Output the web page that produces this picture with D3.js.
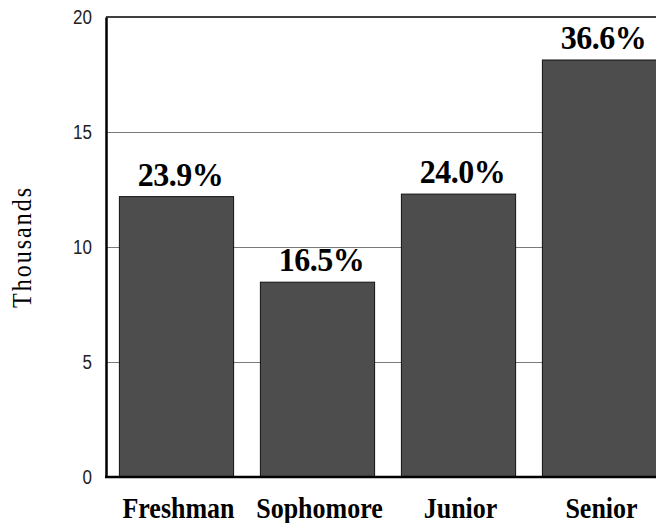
<!DOCTYPE html>
<html>
<head>
<meta charset="utf-8">
<script src="https://cdn.jsdelivr.net/npm/d3@7"></script>
<style>
  html, body { margin: 0; padding: 0; background: #fff; }
  svg { display: block; }
</style>
</head>
<body>
<div id="chart"></div>
<script>
// data
const categories = ["Freshman", "Sophomore", "Junior", "Senior"];
const thousands = [12.19, 8.47, 12.30, 18.13];
const shareLabels = ["23.9%", "16.5%", "24.0%", "36.6%"];
const yTicks = [0, 5, 10, 15, 20];

const width = 656;
const height = 523;
const plotLeft = 106;   // y axis position
const plotTop = 17;
const plotBottom = 477;
const serif = "'Liberation Serif', 'Times New Roman', serif";

const svg = d3.select("#chart").append("svg")
    .attr("width", width)
    .attr("height", height);

const x = d3.scaleBand()
    .domain(categories)
    .range([plotLeft, plotLeft + 564])
    .paddingInner(0.19)
    .paddingOuter(0.095);

const y = d3.scaleLinear()
    .domain([0, 20])
    .range([plotBottom, plotTop]);

// grey gridlines (5, 10, 15)
svg.append("g")
    .attr("transform", `translate(${plotLeft},0)`)
    .call(d3.axisLeft(y).tickValues([5, 10, 15]).tickSize(-(width - plotLeft)).tickFormat(""))
    .call(g => g.select(".domain").remove())
    .call(g => g.selectAll("line").attr("stroke", "#7a7a7a").attr("stroke-width", 1));

// top border at 20
svg.append("line")
    .attr("x1", plotLeft).attr("x2", width)
    .attr("y1", y(20)).attr("y2", y(20))
    .attr("stroke", "#000").attr("stroke-width", 1.5);

// bars
svg.selectAll("rect.bar")
    .data(categories)
    .enter().append("rect")
    .attr("class", "bar")
    .attr("x", d => x(d))
    .attr("y", (d, i) => y(thousands[i]))
    .attr("width", x.bandwidth())
    .attr("height", (d, i) => y(0) - y(thousands[i]))
    .attr("fill", "#4d4d4d")
    .attr("stroke", "#111")
    .attr("stroke-width", 1);

// percentage labels above bars
svg.selectAll("text.share")
    .data(categories)
    .enter().append("text")
    .attr("class", "share")
    .attr("transform", (d, i) => `translate(${x(d) + x.bandwidth() / 2 + 4},${y(thousands[i]) - 11}) scale(1,1.05)`)
    .attr("text-anchor", "middle")
    .style("font-family", serif)
    .style("font-weight", "bold")
    .style("font-size", "32px")
    .style("letter-spacing", "-0.5px")
    .text((d, i) => shareLabels[i]);

// y axis
svg.append("g")
    .attr("transform", `translate(${plotLeft},0)`)
    .call(d3.axisLeft(y).tickValues(yTicks).tickSize(0).tickPadding(14))
    .call(g => g.select(".domain").attr("stroke", "#000").attr("stroke-width", 2.5))
    .call(g => g.selectAll("text")
        .attr("fill", "#222")
        .style("font-family", "'Liberation Sans', Arial, sans-serif")
        .style("font-size", "17px")
        .attr("transform", "scale(1,1.22)"));

// baseline
svg.append("line")
    .attr("x1", plotLeft - 1).attr("x2", width)
    .attr("y1", y(0)).attr("y2", y(0))
    .attr("stroke", "#000").attr("stroke-width", 2.5);

// category labels
svg.selectAll("text.cat")
    .data(categories)
    .enter().append("text")
    .attr("class", "cat")
    .attr("transform", d => `translate(${x(d) + x.bandwidth() / 2 + 2},518) scale(1,1.12)`)
    .attr("text-anchor", "middle")
    .style("font-family", serif)
    .style("font-weight", "bold")
    .style("font-size", "26px")
    .text(d => d);

// y axis title
svg.append("text")
    .attr("transform", `translate(31,${(plotTop + plotBottom) / 2}) rotate(-90) scale(1,1.1)`)
    .attr("text-anchor", "middle")
    .style("font-family", serif)
    .style("font-size", "24px")
    .style("letter-spacing", "2px")
    .text("Thousands");
</script>
</body>
</html>
